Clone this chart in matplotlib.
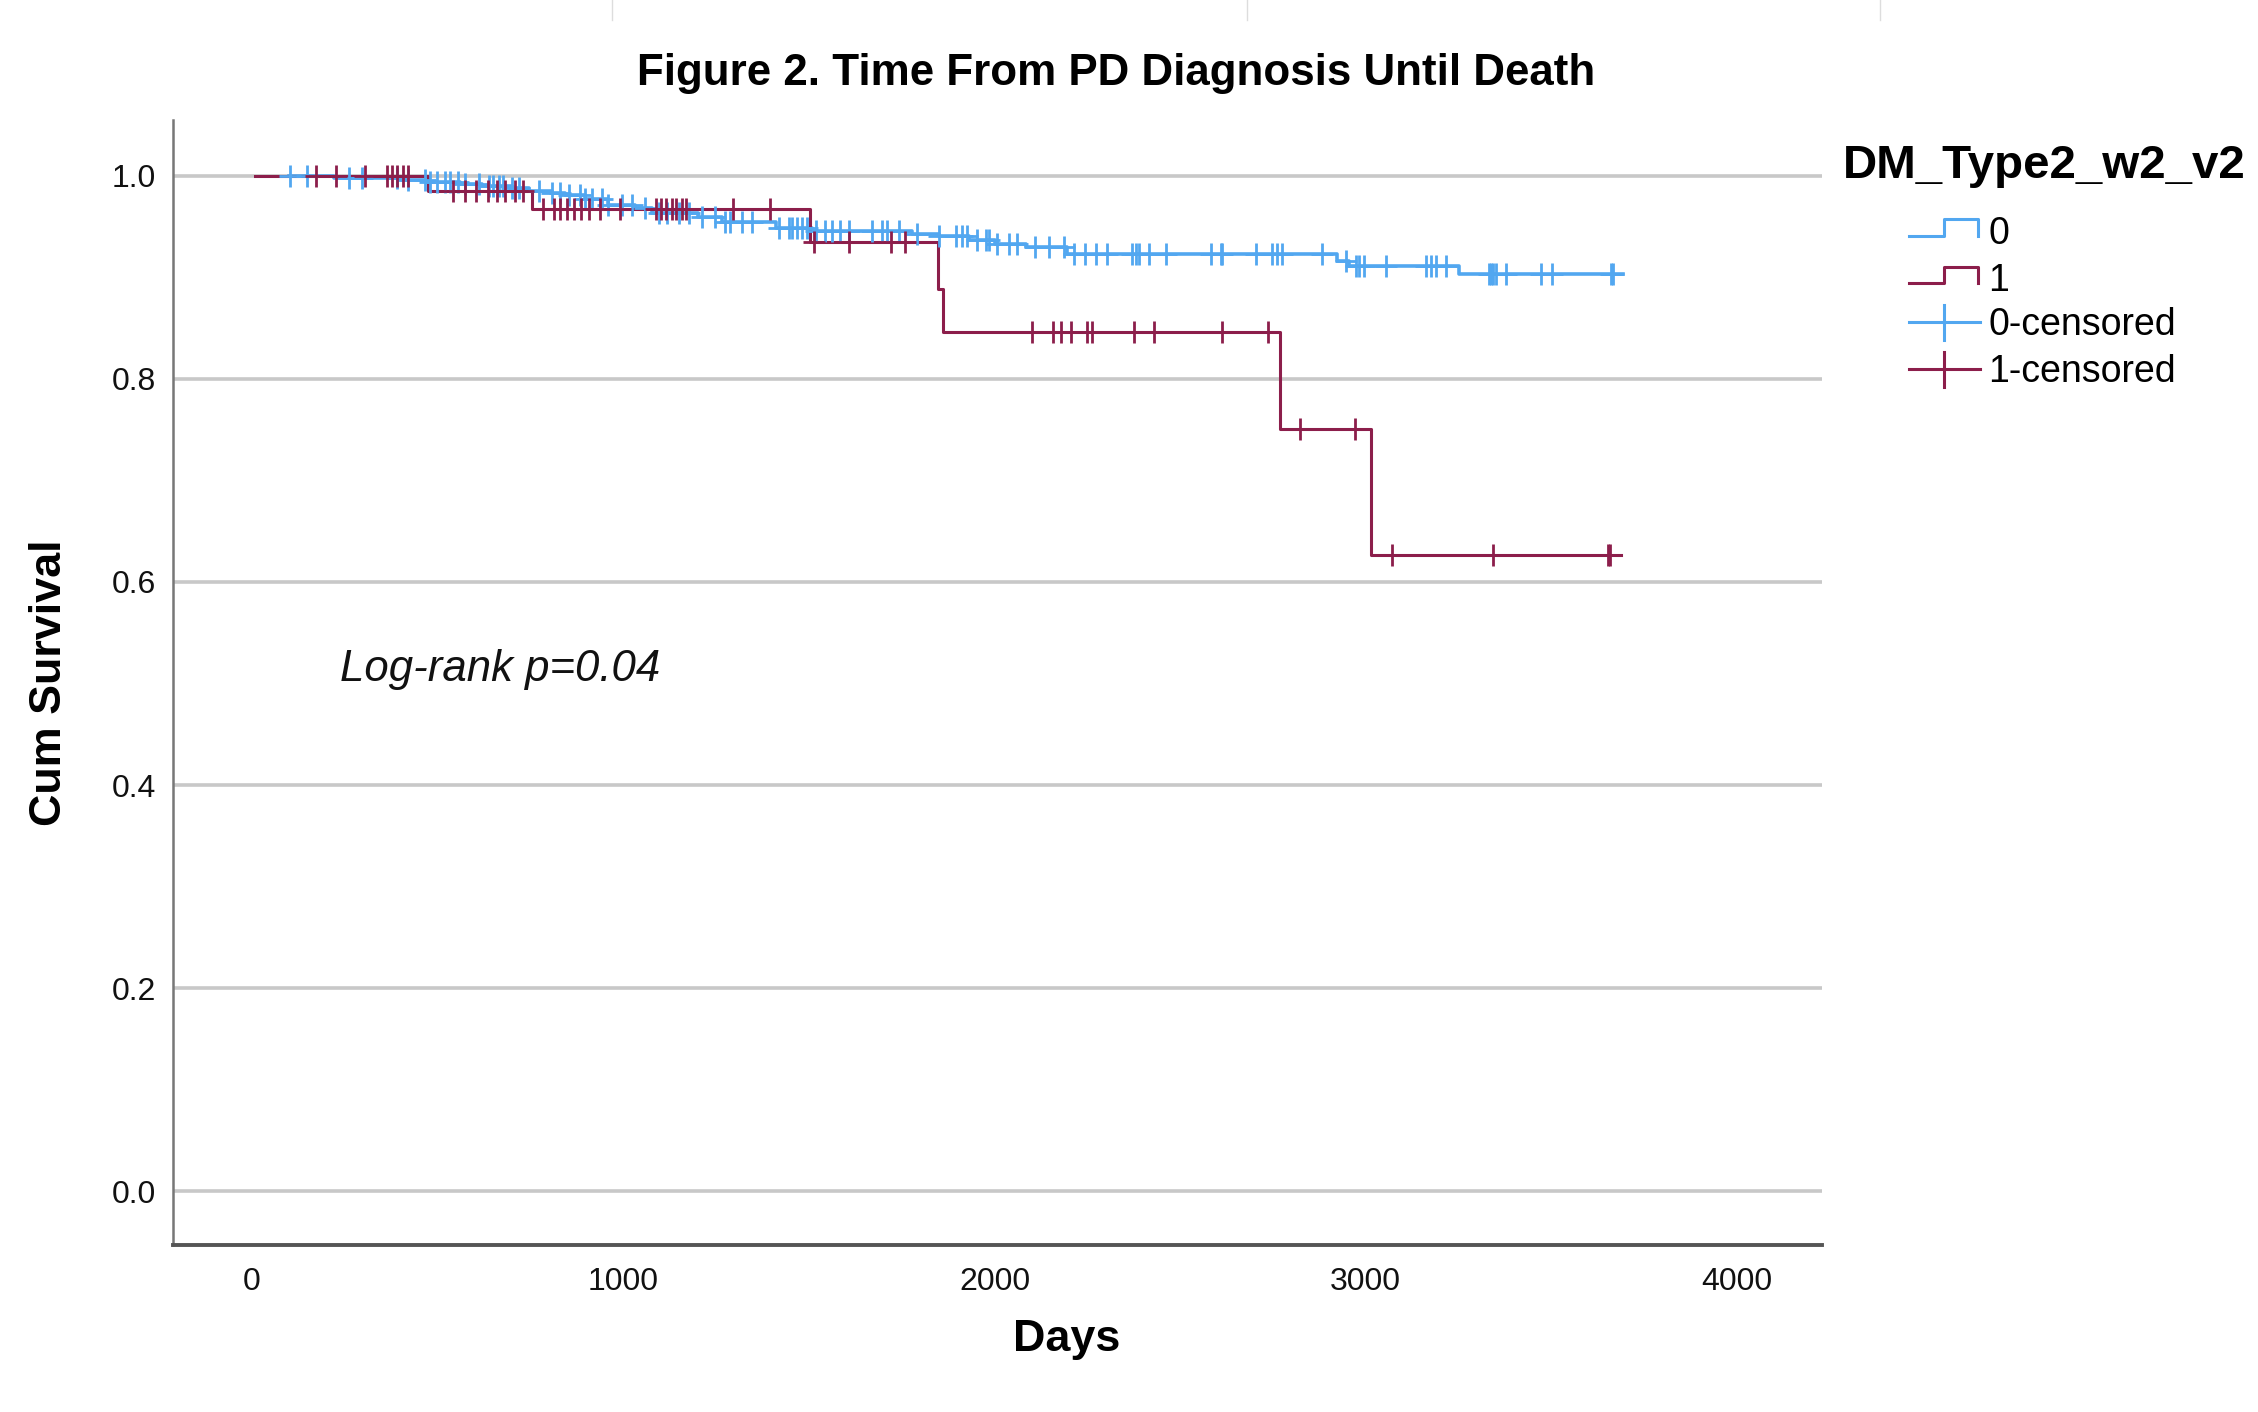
import numpy as np
import matplotlib
matplotlib.use("Agg")
import matplotlib.pyplot as plt
from matplotlib.lines import Line2D

plt.rcParams['font.family'] = ['Liberation Sans', 'DejaVu Sans']

# ---------------- data ----------------
groups = ["0", "1"]
legend_title = "DM_Type2_w2_v2"

# group 0 (no DM)
g0_start, g0_end = 100, 3692
g0_event_days = [220, 400, 470, 560, 620, 700, 745, 808, 844, 898, 960, 1032,
                 1077, 1202, 1265, 1410, 1509, 1778, 1850, 1932, 2002, 2086,
                 2195, 2923, 2954, 3250]
g0_surv = [0.998, 0.996, 0.994, 0.992, 0.990, 0.988, 0.985, 0.983, 0.981, 0.977,
           0.971, 0.968, 0.963, 0.959, 0.955, 0.949, 0.946, 0.943, 0.941, 0.937,
           0.933, 0.930, 0.923, 0.916, 0.911, 0.903]
g0_censored = [102, 147, 260, 296, 390, 421, 466, 480, 498, 520, 534, 556, 574,
               610, 637, 650, 664, 677, 700, 718, 772, 808, 830, 853, 884, 898,
               916, 943, 960, 997, 1023, 1059, 1095, 1118, 1149, 1176, 1212, 1248,
               1275, 1288, 1320, 1347, 1419, 1446, 1455, 1468, 1482, 1495, 1518,
               1544, 1563, 1585, 1607, 1670, 1697, 1711, 1742, 1792, 1850, 1895,
               1913, 1926, 1953, 1976, 1985, 2007, 2039, 2061, 2110, 2147, 2187,
               2214, 2245, 2272, 2304, 2371, 2380, 2389, 2416, 2461, 2582, 2609,
               2614, 2703, 2748, 2761, 2775, 2883, 2946, 2973, 2982, 2995, 3054,
               3162, 3175, 3189, 3216, 3332, 3338, 3342, 3350, 3377, 3472, 3503,
               3660, 3665]

# group 1 (DM type 2)
g1_start, g1_end = 8, 3687
g1_event_days = [474, 755, 1502, 1847, 1862, 2768, 3013]
g1_surv = [0.985, 0.967, 0.935, 0.889, 0.846, 0.751, 0.627]
g1_censored = [172, 226, 303, 363, 377, 391, 406, 421,
               542, 574, 602, 635, 660, 681, 708, 729,
               785, 814, 830, 849, 866, 887, 908, 936, 992, 1088, 1102, 1116,
               1130, 1143, 1157, 1169, 1296, 1396,
               1513, 1607, 1720, 1760,
               2100, 2157, 2180, 2206, 2250, 2262, 2376, 2430, 2613, 2737,
               2822, 2970,
               3072, 3344, 3653, 3658]

annotation = "Log-rank p=0.04"
x_ticks = [0, 1000, 2000, 3000, 4000]
y_ticks = [0.0, 0.2, 0.4, 0.6, 0.8, 1.0]

# ---------------- style ----------------
c0 = '#52a7f0'
c1 = '#8c1e4b'
W, H = 2258, 1412
fig = plt.figure(figsize=(W / 100, H / 100), dpi=100)
ax = fig.add_axes([173 / W, 1 - 1245 / H, (1822 - 173) / W, (1245 - 120) / H])


def step_xy(start, end, days, surv):
    x = np.concatenate([[start], days, [end]])
    y = np.concatenate([[1.0], surv, [surv[-1]]])
    return x, y


def censor_y(cens, days, surv):
    levels = np.concatenate([[1.0], surv])
    idx = np.searchsorted(np.asarray(days), np.asarray(cens), side='right')
    return levels[idx]


for start, end, days, surv, cens, col, lw in [
        (g0_start, g0_end, g0_event_days, g0_surv, g0_censored, c0, 2.6),
        (g1_start, g1_end, g1_event_days, g1_surv, g1_censored, c1, 2.2)]:
    x, y = step_xy(start, end, days, surv)
    ax.step(x, y, where='post', color=col, lw=lw, zorder=3)
    ax.plot(cens, censor_y(cens, days, surv), linestyle='none', marker='+',
            markersize=16, mew=2.0, color=col, zorder=4)

ax.set_xlim(-213, 4229)
ax.set_ylim(-0.053, 1.055)
ax.set_xticks(x_ticks)
ax.set_xticklabels([str(t) for t in x_ticks])
ax.set_yticks(y_ticks)
ax.set_yticklabels([f"{t:.1f}" for t in y_ticks])
ax.tick_params(axis='both', length=0, labelsize=23, colors='#111111')
ax.tick_params(axis='y', pad=12)
ax.tick_params(axis='x', pad=16)
ax.yaxis.grid(True, color='#c8c8c8', lw=2.6, zorder=0)
ax.set_axisbelow(True)
for s in ['top', 'right']:
    ax.spines[s].set_visible(False)
ax.spines['left'].set_color('#777777')
ax.spines['left'].set_linewidth(1.8)
ax.spines['bottom'].set_color('#555555')
ax.spines['bottom'].set_linewidth(2.8)

ax.text(237, 0.514, annotation, fontsize=31.5, style='italic', va='center',
        ha='left', color='#111111')

# titles / labels
fig.text(1116 / W, 1 - 73 / H, "Figure 2. Time From PD Diagnosis Until Death",
         ha='center', va='center', fontsize=31.6, fontweight='bold')
fig.text(1067 / W, 1 - 1340 / H, "Days", ha='center', va='center',
         fontsize=32.3, fontweight='bold')
fig.text(50 / W, 1 - 683 / H, "Cum Survival", ha='center', va='center',
         fontsize=32.3, fontweight='bold', rotation=90)

# legend (drawn manually, SPSS style)
fig.text(1843 / W, 1 - 166 / H, legend_title, ha='left', va='center',
         fontsize=34.2, fontweight='bold')


def fx(px):
    return px / W


def fy(py):
    return 1 - py / H


for col, ylow, yhigh, label in [(c0, 236, 219, groups[0]), (c1, 283, 267, groups[1])]:
    xs = [1909, 1944, 1944, 1978, 1978]
    ys = [ylow, ylow, yhigh, yhigh, ylow]
    fig.add_artist(Line2D([fx(v) for v in xs], [fy(v) for v in ys],
                          color=col, lw=2.2))
    fig.text(fx(1988), fy((ylow + yhigh) / 2 + 6), label, ha='left',
             va='center', fontsize=27)

for col, yc, label in [(c0, 322, groups[0] + "-censored"),
                       (c1, 369, groups[1] + "-censored")]:
    fig.add_artist(Line2D([fx(1909), fx(1980)], [fy(yc), fy(yc)], color=col, lw=2.2))
    fig.add_artist(Line2D([fx(1944), fx(1944)], [fy(yc - 17), fy(yc + 18)],
                          color=col, lw=2.2))
    fig.text(fx(1988), fy(yc + 3), label, ha='left', va='center', fontsize=27)

# faint crop lines at top edge
for px in [612, 1247, 1880]:
    fig.add_artist(Line2D([fx(px), fx(px)], [fy(0), fy(20)], color='#dddddd', lw=1))

fig.savefig("out.png", dpi=100, facecolor='white')
